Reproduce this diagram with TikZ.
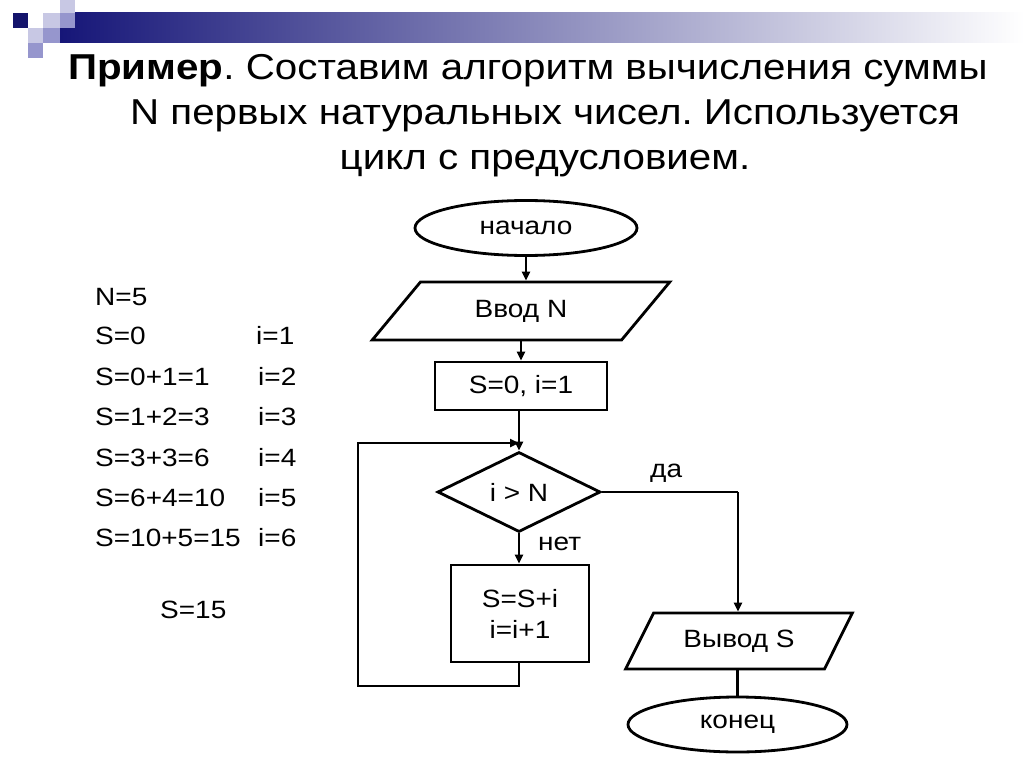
\documentclass[tikz,border=0pt]{standalone}
\usepackage{fontspec}
\setmainfont{Liberation Sans}[FakeStretch=1.12]
\usetikzlibrary{arrows.meta,shapes.geometric}
\definecolor{navy}{RGB}{22,22,120}
\definecolor{sqlight}{RGB}{200,200,228}
\definecolor{sqmed}{RGB}{150,150,205}
\newcommand{\fsz}[1]{\fontsize{#1}{#1}\selectfont}
\frenchspacing
\tikzset{
  flow/.style={draw=black, line width=2.8pt, fill=white, inner sep=0pt, font=\fsz{25}},
  conn/.style={line width=2.8pt, draw=black},
  arr/.style={conn, -{Triangle[length=9pt,width=8pt]}},
  lbl/.style={font=\fsz{25}, inner sep=0pt, anchor=base west},
  ttl/.style={font=\fsz{36}, inner sep=0pt}
}
\begin{document}
\begin{tikzpicture}[x=1pt,y=-1pt]
\useasboundingbox (0,0) rectangle (1024,767);
% decoration
\shade[left color=navy, right color=white] (60,13) rectangle (1024,43);
\fill[sqlight] (60,0) rectangle (75,13);
\fill[navy!90!black] (13,13) rectangle (28,28);
\fill[sqlight] (43,13) rectangle (60,28);
\fill[sqmed] (60,13) rectangle (75,28);
\fill[sqlight] (28,28) rectangle (43,43);
\fill[sqmed] (43,28) rectangle (60,43);
\fill[sqmed] (28,43) rectangle (43,58);
% title
\node[ttl, anchor=base west] (t1) at (68,80) {\textbf{Пример}. Составим алгоритм вычисления суммы};
\node[ttl, anchor=base] (t2) at (545,125) {N первых натуральных чисел. Используется};
\node[ttl, anchor=base] (t3) at (545,170) {цикл с предусловием.};
% left column
\node[lbl] (l1) at (95,305) {N=5};
\node[lbl] (l2) at (95,344) {S=0};
\node[lbl] (l3) at (95,385) {S=0+1=1};
\node[lbl] (l4) at (95,425) {S=1+2=3};
\node[lbl] (l5) at (95,466) {S=3+3=6};
\node[lbl] (l6) at (95,506) {S=6+4=10};
\node[lbl] (l7) at (95,546) {S=10+5=15};
\node[lbl] (r2) at (256,344) {i=1};
\node[lbl] (r3) at (258,385) {i=2};
\node[lbl] (r4) at (258,425) {i=3};
\node[lbl] (r5) at (258,466) {i=4};
\node[lbl] (r6) at (258,506) {i=5};
\node[lbl] (r7) at (258,546) {i=6};
\node[lbl] (sres) at (160,618) {S=15};
% flowchart
\node[flow, ellipse, minimum width=222pt, minimum height=55pt] (start) at (526,228) {начало};
\node[flow, trapezium, trapezium left angle=45, trapezium right angle=135, minimum width=298pt, minimum height=58pt, trapezium stretches=true] (in) at (521,311) {Ввод N};
\node[flow, rectangle, minimum width=172pt, minimum height=48pt] (init) at (521,386) {S=0, i=1};
\node[flow, diamond, minimum width=163pt, minimum height=80pt, aspect=2] (cond) at (519,492) {i > N};
\node[flow, rectangle, minimum width=138pt, minimum height=97pt, align=center] (body) at (520,613.5) {S=S+i\\[6pt]i=i+1};
\node[flow, trapezium, trapezium left angle=51, trapezium right angle=129, minimum width=227pt, minimum height=56pt, trapezium stretches=true] (out) at (739,641) {Вывод S};
\node[flow, ellipse, minimum width=219pt, minimum height=55pt] (end) at (737.5,724.5) {конец};
\node[lbl] (yes) at (650,477) {да};
\node[lbl] (no) at (538,550) {нет};
\coordinate (j) at (519,443);
\coordinate (lb) at (519,686);
\coordinate (ll) at (358,686);
\coordinate (lt) at (358,443);
\coordinate (rt) at (738,492);
\draw[arr] (start.south) -- (start.south |- in.north);
\draw[arr] (in.south -| init.north) -- (init.north);
\draw[arr] (init.south -| cond.north) -- (cond.north);
\draw[arr] (cond.south) -- (cond.south |- body.north);
\draw[conn] (body.south -| lb) -- (lb) -- (ll) -- (lt) -- ([xshift=-12pt]j);
\draw[arr] (lt) -- (j);
\draw[conn] (cond.east) -- (rt);
\draw[arr] (rt) -- (rt |- out.north);
\draw[conn] (out.south -| end.north) -- (end.north);
\end{tikzpicture}
\end{document}
